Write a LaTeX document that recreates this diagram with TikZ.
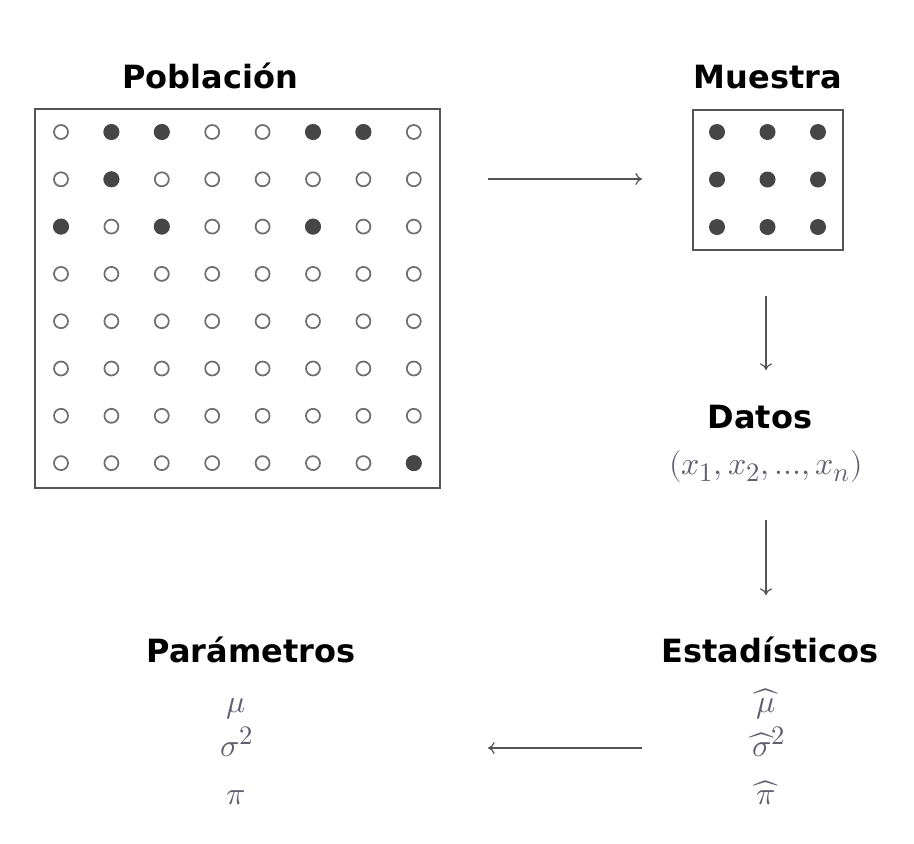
\documentclass[tikz,border=0pt]{standalone}
\usepackage{fontspec}
\setmainfont{DejaVu Sans}
\usepackage{amsmath}
\usepackage{unicode-math}
\setmathfont{Latin Modern Math}
\DeclareMathSizes{24}{24}{20}{16}
\usetikzlibrary{arrows.meta}
\definecolor{boxgray}{RGB}{85,85,85}
\definecolor{dotgray}{RGB}{110,110,110}
\definecolor{dotfill}{RGB}{70,70,70}
\definecolor{mathgray}{RGB}{95,95,110}
\newcommand{\bighat}[1]{\widehat{\mkern2mu#1\mkern2mu}}
\tikzset{
  title/.style={font=\fontsize{24}{28}\selectfont\bfseries, text=black, inner sep=0pt, anchor=base},
  framebox/.style={draw=boxgray, line width=1.4pt, inner sep=0pt},
  opendot/.style={circle, draw=dotgray, line width=1.3pt, fill=white, minimum size=10.5pt, inner sep=0pt},
  fulldot/.style={circle, fill=dotfill, minimum size=12pt, inner sep=0pt},
  flow/.style={draw=boxgray, line width=0.9pt, -{To[length=5pt,width=9pt]}},
  mathtxt/.style={text=mathgray, font=\fontsize{24}{28}\selectfont, inner sep=0pt, anchor=base}
}
\begin{document}
\begin{tikzpicture}[x=0.75pt,y=-0.75pt]
\useasboundingbox (0,0) rectangle (914,843);
% titles
\node[title] (tpob) at (210,88) {Población};
\node[title] (tmue) at (768,88) {Muestra};
\node[title] (tdat) at (760,428) {Datos};
\node[title] (test) at (770,662) {Estadísticos};
\node[title] (tpar) at (251,662) {Parámetros};
% boxes
\node[framebox, minimum width=303.75pt, minimum height=284.25pt] (pop) at (237.5,298.5) {};
\node[framebox, minimum width=112.5pt, minimum height=105pt] (mue) at (768,180) {};
% population dots
\foreach \r [evaluate=\r as \yy using 132+(\r-1)*47.3] in {1,...,8} {
  \foreach \c [evaluate=\c as \xx using 61+(\c-1)*50.4] in {1,...,8} {
    \node[opendot] (p\r\c) at (\xx,\yy) {};
  }
}
\foreach \r/\c in {1/2,1/3,1/6,1/7,2/2,3/1,3/3,3/6,8/8} {
  \node[fulldot] at (p\r\c) {};
}
% sample dots
\foreach \r [evaluate=\r as \yy using 132+(\r-1)*47.5] in {1,2,3} {
  \foreach \c [evaluate=\c as \xx using 717+(\c-1)*50.5] in {1,2,3} {
    \node[fulldot] (m\r\c) at (\xx,\yy) {};
  }
}
% data
\node[mathtxt] (dat) at (766,474) {$(x_1,x_2,...,x_n)$};
% statistics
\node[mathtxt] (emu) at (766,712) {$\bighat{\mu}$};
\node[mathtxt] (esig) at (767,756) {$\bighat{\sigma}\mkern-2mu{}^2$};
\node[mathtxt] (epi) at (766,804) {$\bighat{\pi}$};
% parameters
\node[mathtxt] (pmu) at (236,712) {$\mu$};
\node[mathtxt] (psig) at (237,756) {$\sigma^2$};
\node[mathtxt] (ppi) at (236,804) {$\pi$};
% arrows
\coordinate (a1s) at (488,179);
\coordinate (a1e) at (642,179);
\coordinate (a2s) at (766,296);
\coordinate (a2e) at (766,370);
\coordinate (a3s) at (766,520);
\coordinate (a3e) at (766,595);
\coordinate (a4s) at (642,748);
\coordinate (a4e) at (488,748);
\draw[flow] (a1s) -- (a1e);
\draw[flow] (a2s) -- (a2e);
\draw[flow] (a3s) -- (a3e);
\draw[flow] (a4s) -- (a4e);
\end{tikzpicture}
\end{document}
